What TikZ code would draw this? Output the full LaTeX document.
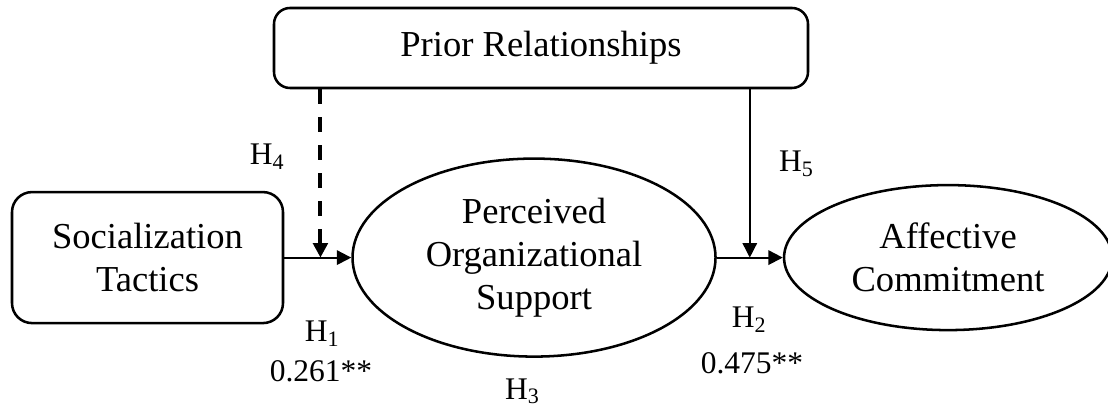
\documentclass[tikz,border=0pt]{standalone}
\usepackage{fontspec}
\setmainfont{Liberation Serif}
\usetikzlibrary{arrows.meta}
\usetikzlibrary{calc}
\usetikzlibrary{positioning}
\usetikzlibrary{shapes.geometric}

\begin{document}
\begin{tikzpicture}[>={Triangle[length=0.36cm,width=0.36cm]}, node distance=1.675cm, line width=1.4pt, font=\fontsize{26}{30.6}\selectfont]
	\tikzstyle{obs}=[draw, rounded corners=0.5cm, line width=1.8pt, align=center, inner sep=0pt]
	\tikzstyle{lat}=[draw, ellipse, line width=1.8pt, align=center, inner sep=0pt]
	\tikzstyle{hyp}=[font=\fontsize{22.4}{26}\selectfont, anchor=base]
	\useasboundingbox (0,0) rectangle (27.7,10.25);
	\node[obs, minimum width=6.775cm, minimum height=3.275cm] (st) at (3.6875,3.81) {Socialization\\Tactics};
	\node[lat, minimum width=9.075cm, minimum height=4.95cm] (pos) [right=1.675cm of st] {Perceived\\Organizational\\Support};
	\node[lat, minimum width=8.2cm, minimum height=3.625cm] (ac) [right=1.65cm of pos] {Affective\\Commitment};
	\node[obs, rounded corners=0.4cm, minimum width=13.35cm, minimum height=2cm] (pr) at (13.525,9.05) {Prior Relationships};
	\coordinate (m1) at ($(st.east)!0.54!(pos.west)$);
	\coordinate (m2) at ($(pos.east)!0.5!(ac.west)$);
	% hypothesis labels
	\node[hyp] (h4) at (6.675,6.125) {H\textsubscript{4}};
	\node[hyp] (h5) at (19.91,5.95) {H\textsubscript{5}};
	\node[hyp] (h1) at (8.05,1.7) {H\textsubscript{1}};
	\node[hyp] (b1) at (8.025,0.7) {0.261**};
	\node[hyp] (h2) at (18.725,2.05) {H\textsubscript{2}};
	\node[hyp] (b2) at (18.8,0.9) {0.475**};
	\node[hyp] (h3) at (13.06,0.27) {H\textsubscript{3}};
	\path[->]
		(st) edge (pos)
		(pos) edge (ac);
	\draw[->, line width=2.8pt, dash pattern=on 0.375cm off 0.325cm] (pr.south -| m1) -- (m1);
	\draw[->, line width=1pt] (pr.south -| m2) -- (m2);
\end{tikzpicture}
\end{document}
